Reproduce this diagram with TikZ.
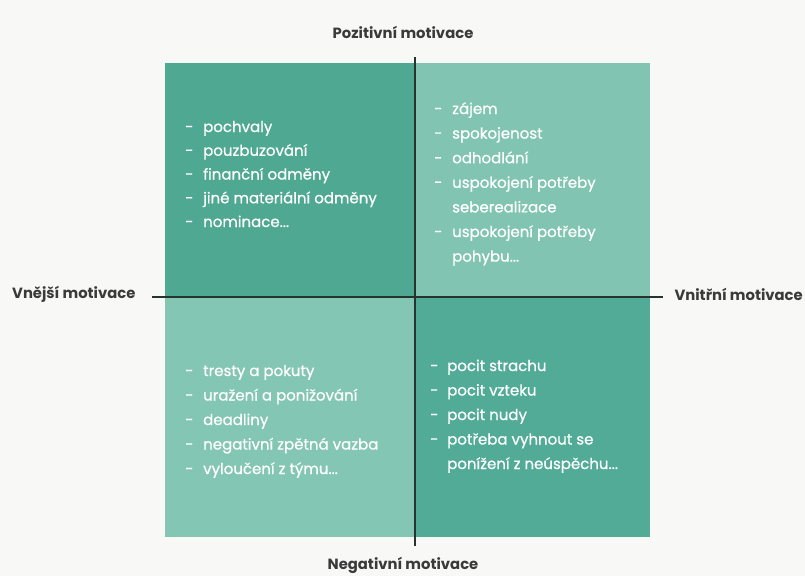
\documentclass[tikz,border=0pt]{standalone}
\usepackage{fontspec}
\setmainfont{Poppins}
\newfontfamily\itemfont[FakeBold=0.7]{Poppins}
\newcommand{\ellip}{...}
\definecolor{bg}{HTML}{F8F8F7}
\definecolor{qdark}{HTML}{4FA892}
\definecolor{qlight}{HTML}{80C4B1}
\definecolor{qlightb}{HTML}{84C6B4}
\definecolor{qdarkb}{HTML}{52AB97}
\definecolor{axis}{HTML}{26332F}
\definecolor{lbl}{HTML}{3A3A3A}
\begin{document}
\begin{tikzpicture}[x=1pt,y=-1pt,
  quad/.style={draw=none,inner sep=0,outer sep=0,anchor=north west},
  item/.style={text=white,font=\itemfont\fontsize{15}{17}\selectfont,anchor=base west,inner sep=0},
  axlabel/.style={text=lbl,font=\bfseries\fontsize{14.8}{16}\selectfont,inner sep=0},
  axisline/.style={draw=axis,line width=1.6pt}]
\useasboundingbox[fill=bg] (0,0) rectangle (805,576);
% quadrants
\node[quad,fill=qdark,minimum width=250pt,minimum height=234pt] (tl) at (165,63) {};
\node[quad,fill=qlight,minimum width=235pt,minimum height=234pt] (tr) at (415,63) {};
\node[quad,fill=qlightb,minimum width=250pt,minimum height=240pt] (bl) at (165,297) {};
\node[quad,fill=qdarkb,minimum width=235pt,minimum height=240pt] (br) at (415,297) {};
% axes
\coordinate (top) at (415,57);
\coordinate (bottom) at (415,546);
\coordinate (left) at (152,297);
\coordinate (right) at (663,297);
\draw[axisline] (top) -- (bottom);
\draw[axisline] (left) -- (right);
% axis labels
\node[axlabel] (pos) at (403,32) {Pozitivní motivace};
\node[axlabel] (neg) at (403,565) {Negativní motivace};
\node[axlabel,anchor=west] (ext) at (12,294) {Vnější motivace};
\node[axlabel,anchor=east] (int) at (803,294) {Vnitřní motivace};
% top-left items
\foreach \t [count=\i] in {pochvaly,pouzbuzování,finanční odměny,jiné materiální odměny,nominace\ellip}{
  \node[item] (tld\i) at (185,132+23.75*\i-23.75) {-};
  \node[item] (tlt\i) at (203,132+23.75*\i-23.75) {\t};
}
% top-right items
\foreach \d/\t [count=\i] in {-/zájem,-/spokojenost,-/odhodlání,-/uspokojení potřeby,/seberealizace,-/uspokojení potřeby,/pohybu\ellip}{
  \node[item] (trd\i) at (434,114+24.6*\i-24.6) {\d};
  \node[item] (trt\i) at (452,114+24.6*\i-24.6) {\t};
}
% bottom-left items
\foreach \t [count=\i] in {tresty a pokuty,uražení a ponižování,deadliny,negativní zpětná vazba,vyloučení z týmu\ellip}{
  \node[item] (bld\i) at (185,376+24.5*\i-24.5) {-};
  \node[item] (blt\i) at (203,376+24.5*\i-24.5) {\t};
}
% bottom-right items
\foreach \d/\t [count=\i] in {-/pocit strachu,-/pocit vzteku,-/pocit nudy,-/potřeba vyhnout se,/ponížení z neúspěchu\ellip}{
  \node[item] (brd\i) at (430,371+24.5*\i-24.5) {\d};
  \node[item] (brt\i) at (447,371+24.5*\i-24.5) {\t};
}
\end{tikzpicture}
\end{document}
